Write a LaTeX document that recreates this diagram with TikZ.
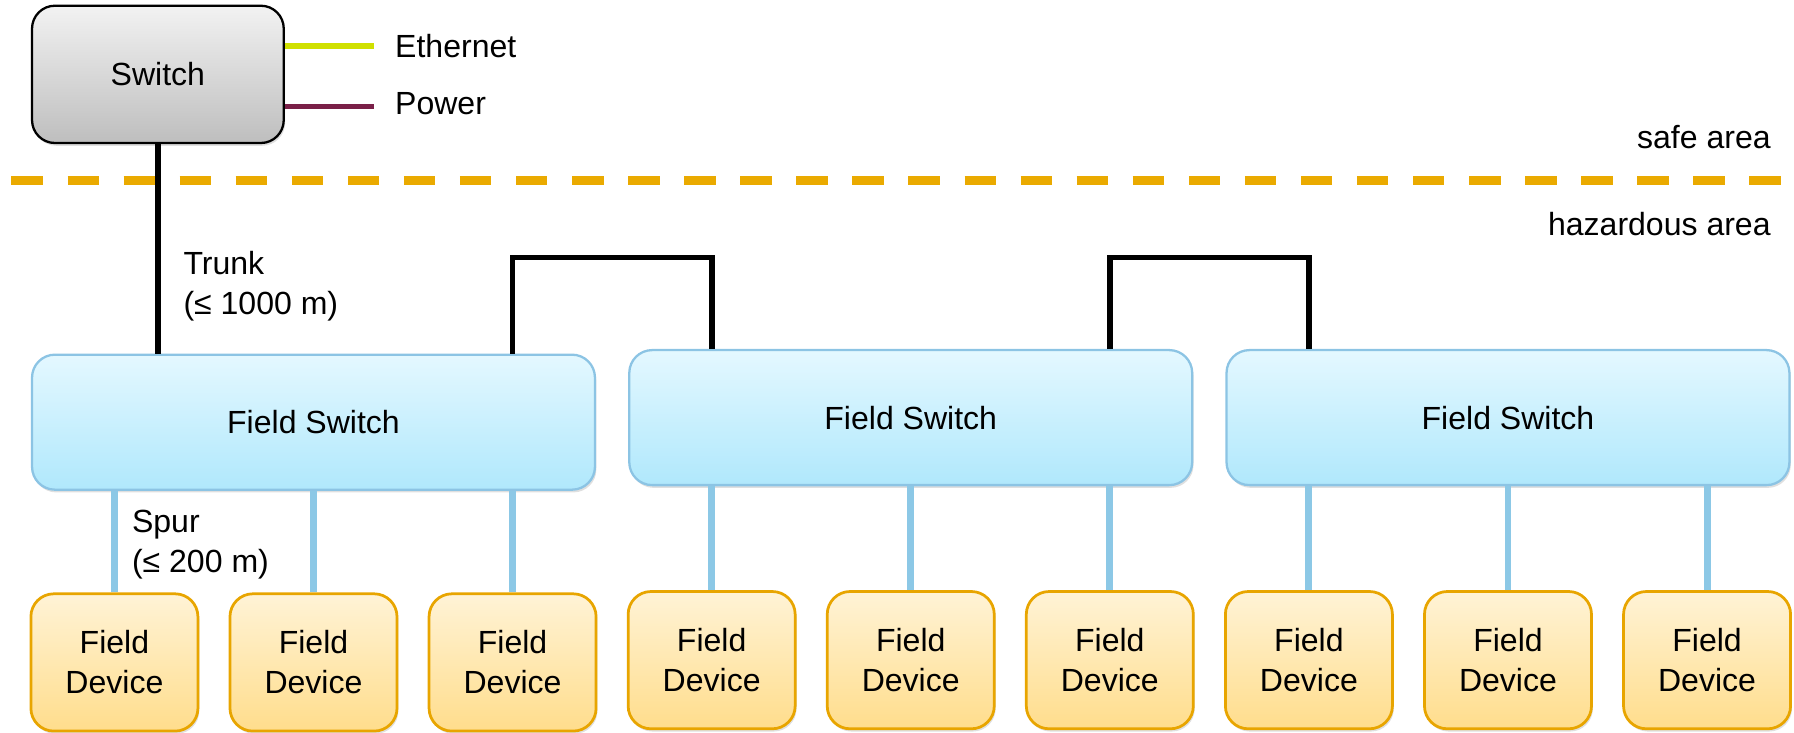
\documentclass[tikz,border=0pt]{standalone}
\usepackage{fontspec}
\setmainfont{Liberation Sans}
\usetikzlibrary{shadows}
\definecolor{ethc}{RGB}{208,224,0}
\definecolor{powc}{RGB}{122,32,72}
\definecolor{dashc}{RGB}{234,170,0}
\definecolor{spurc}{RGB}{140,200,230}
\definecolor{fsborder}{RGB}{140,196,228}
\definecolor{fstop}{RGB}{228,248,255}
\definecolor{fsbot}{RGB}{176,232,252}
\definecolor{devtop}{RGB}{255,243,214}
\definecolor{devbot}{RGB}{255,221,140}
\definecolor{devborder}{RGB}{232,165,0}
\definecolor{swtop}{RGB}{242,242,242}
\definecolor{swbot}{RGB}{190,190,190}
\tikzset{
  myshadow/.style={drop shadow={opacity=0.25,shadow xshift=0.6pt,shadow yshift=-1.2pt}},
  swbox/.style={draw=black, line width=1pt, rounded corners=10pt, top color=swtop, bottom color=swbot,
    minimum width=110pt, minimum height=60pt, inner sep=0pt, myshadow},
  fsbox/.style={draw=fsborder, line width=1pt, rounded corners=10pt, top color=fstop, bottom color=fsbot,
    minimum width=246pt, minimum height=59pt, inner sep=0pt, myshadow},
  devbox/.style={draw=devborder, line width=1.2pt, rounded corners=10pt, top color=devtop, bottom color=devbot,
    minimum width=73pt, minimum height=60pt, inner sep=0pt, align=center, myshadow},
  trunkline/.style={draw=black, line width=2.5pt},
  spurline/.style={draw=spurc, line width=3pt},
  lbl/.style={inner sep=0pt, align=left},
}
\begin{document}
\begin{tikzpicture}[x=0.5pt,y=-0.5pt, font=\fontsize{14}{17.5}\selectfont]
\useasboundingbox (0,0) rectangle (1568,640);
% area separator
\coordinate (dl) at (10,158);
\coordinate (dr) at (1557,158);
\draw[dashc, line width=4pt, dash pattern=on 13.75pt off 10.75pt] (dl) -- (dr);
\node[lbl, anchor=east] (safe) at (1548,120) {safe area};
\node[lbl, anchor=east] (haz) at (1548,196) {hazardous area};
% switch
\node[swbox] (sw) at (138,65) {Switch};
\coordinate (ethend) at (327,40);
\coordinate (powend) at (327,93);
\draw[ethc, line width=2.5pt] (sw.east |- ethend) -- (ethend);
\draw[powc, line width=2.5pt] (sw.east |- powend) -- (powend);
\node[lbl, anchor=west] (eth) at (345,40) {Ethernet};
\node[lbl, anchor=west] (pow) at (345,91) {Power};
% field switches
\node[fsbox] (fs1) at (274,369) {Field Switch};
\node[fsbox] (fs2) at (796,365) {Field Switch};
\node[fsbox] (fs3) at (1318,365) {Field Switch};
% field devices
\node[devbox] (d1) at (100,579) {Field\\Device};
\node[devbox] (d2) at (274,579) {Field\\Device};
\node[devbox] (d3) at (448,579) {Field\\Device};
\node[devbox] (d4) at (622,577) {Field\\Device};
\node[devbox] (d5) at (796,577) {Field\\Device};
\node[devbox] (d6) at (970,577) {Field\\Device};
\node[devbox] (d7) at (1144,577) {Field\\Device};
\node[devbox] (d8) at (1318,577) {Field\\Device};
\node[devbox] (d9) at (1492,577) {Field\\Device};
% trunk
\draw[trunkline] (sw.south) -- (sw.south |- fs1.north);
\node[lbl, anchor=west] (trunk) at (160,250) {Trunk\\(≤ 1000 m)};
\coordinate (hl) at (0,225);
\draw[trunkline] (fs1.north -| d3.north) -- (d3.north |- hl) -- (d4.north |- hl) -- (fs2.north -| d4.north);
\draw[trunkline] (fs2.north -| d6.north) -- (d6.north |- hl) -- (d7.north |- hl) -- (fs3.north -| d7.north);
% spurs
\draw[spurline] (fs1.south -| d1.north) -- (d1.north);
\draw[spurline] (fs1.south -| d2.north) -- (d2.north);
\draw[spurline] (fs1.south -| d3.north) -- (d3.north);
\draw[spurline] (fs2.south -| d4.north) -- (d4.north);
\draw[spurline] (fs2.south -| d5.north) -- (d5.north);
\draw[spurline] (fs2.south -| d6.north) -- (d6.north);
\draw[spurline] (fs3.south -| d7.north) -- (d7.north);
\draw[spurline] (fs3.south -| d8.north) -- (d8.north);
\draw[spurline] (fs3.south -| d9.north) -- (d9.north);
\node[lbl, anchor=west] (spur) at (115,476) {Spur\\(≤ 200 m)};
\end{tikzpicture}
\end{document}
